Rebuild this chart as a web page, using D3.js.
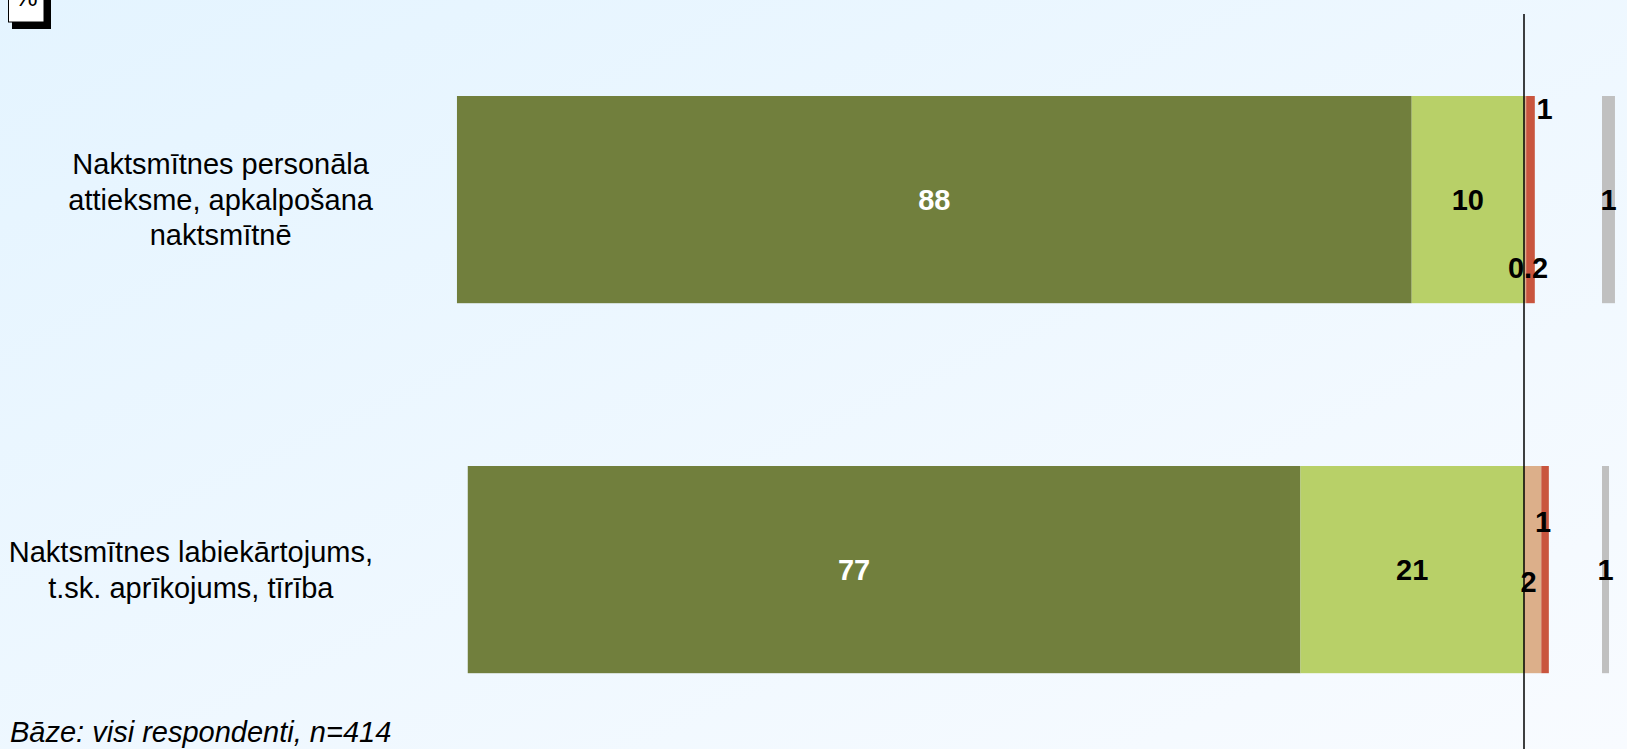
<html>
<head>
  <meta charset="utf-8">
  <script src="https://d3js.org/d3.v7.min.js"></script>
  <style>
    body { margin: 0; overflow: hidden; }
    svg { display: block; font-family: Arial, "Liberation Sans", sans-serif; }
  </style>
</head>
<body>
<svg id="chart" width="1627" height="749"></svg>
<script>
// data
let categories = [
  ["Naktsmītnes personāla", "attieksme, apkalpošana", "naktsmītnē"],
  ["Naktsmītnes labiekārtojums,", "t.sk. aprīkojums, tīrība"]
];
let verySatisfied = [88.4, 77.1];   // dark green, drawn to the left
let ratherSatisfied = [10.4, 20.7]; // light green, drawn to the left
let ratherNot = [0.2, 1.6];         // peach, to the right
let notAtAll = [0.8, 0.7];          // red, to the right
let hardToSay = [1.2, 0.65];        // grey, own column
let footnote = "Bāze: visi respondenti, n=414";

let colors = ["#717f3d", "#b8d068", "#dcaf8a", "#c9553e", "#c0c0c0"];

// label tweaks (Excel had moved some of the small labels by hand)
let nudge = [
  [[0, 0], [0, 0], [3, 0.83], [14, 0.06], [0, 0.5]],
  [[-30, 0.5], [0, 0.5], [-4, 0.56], [-2, 0.27], [0, 0.5]]
];

let svg = d3.select("#chart");
let W = 1627, H = 749;
let fs = 29;

// background gradient
let defs = svg.append("defs");
let grad = defs.append("linearGradient").attr("id", "bg")
  .attr("x1", "0").attr("y1", "0").attr("x2", "1").attr("y2", "1");
grad.append("stop").attr("offset", "0").attr("stop-color", "#e4f4ff");
grad.append("stop").attr("offset", "1").attr("stop-color", "#f8fbff");
svg.append("rect").attr("width", W).attr("height", H).attr("fill", "url(#bg)");

let x = d3.scaleLinear().domain([-100, 0]).range([444, 1524]); // satisfied = negative side
let g = d3.scaleLinear().domain([0, 1]).range([1602, 1612.8]);   // "grūti pateikt" column
let y = d3.scaleBand().domain(d3.range(categories.length))
  .range([14.6, 754.6]).paddingInner(0.44).paddingOuter(0.22);

let fmt = v => v < 0.5 ? v.toFixed(1) : String(Math.round(v));

categories.forEach((cat, i) => {
  let segs = [];
  let left = -(verySatisfied[i] + ratherSatisfied[i]);
  segs.push({ x0: left, x1: left + verySatisfied[i], v: verySatisfied[i], c: 0 });
  segs.push({ x0: left + verySatisfied[i], x1: 0, v: ratherSatisfied[i], c: 1 });
  segs.push({ x0: 0, x1: ratherNot[i], v: ratherNot[i], c: 2 });
  segs.push({ x0: ratherNot[i], x1: ratherNot[i] + notAtAll[i], v: notAtAll[i], c: 3 });

  segs.forEach(s => {
    svg.append("rect")
      .attr("x", x(s.x0)).attr("y", y(i))
      .attr("width", x(s.x1) - x(s.x0)).attr("height", y.bandwidth())
      .attr("fill", colors[s.c]);
  });

  svg.append("rect")
    .attr("x", g(0)).attr("y", y(i))
    .attr("width", g(hardToSay[i]) - g(0)).attr("height", y.bandwidth())
    .attr("fill", colors[4]);

  // value labels
  segs.forEach(s => {
    let n = nudge[i][s.c];
    let cx = (x(s.x0) + x(s.x1)) / 2 + n[0];
    let cy = y(i) + y.bandwidth() * (n[1] || 0.5);
    svg.append("text")
      .attr("x", cx).attr("y", cy).attr("dy", "0.35em")
      .attr("text-anchor", "middle")
      .attr("font-size", fs).attr("font-weight", "bold")
      .attr("fill", s.c == 0 ? "#fff" : "#000")
      .text(fmt(s.v));
  });
  let n = nudge[i][4];
  svg.append("text")
    .attr("x", (g(0) + g(hardToSay[i])) / 2 + n[0])
    .attr("y", y(i) + y.bandwidth() * n[1]).attr("dy", "0.35em")
    .attr("text-anchor", "middle")
    .attr("font-size", fs).attr("font-weight", "bold")
    .text(fmt(hardToSay[i]));

  // category label: block right edge at 372, lines centred inside the block
  let lbl = svg.append("g");
  let texts = cat.map((line, j) => lbl.append("text")
    .attr("font-size", fs).attr("fill", "#000")
    .attr("text-anchor", "middle")
    .attr("y", y(i) + y.bandwidth() / 2 + (j - (cat.length - 1) / 2) * 35.5)
    .attr("dy", "0.35em")
    .text(line));
  let widest = d3.max(texts, t => t.node().getComputedTextLength());
  texts.forEach(t => t.attr("x", 373 - widest / 2));
});

// zero line
svg.append("line")
  .attr("x1", x(0)).attr("x2", x(0))
  .attr("y1", 14).attr("y2", H)
  .attr("stroke", "#000").attr("stroke-width", 1.5);

// "%" box in the corner (mostly above the visible area)
svg.append("rect").attr("x", 12).attr("y", -12).attr("width", 39).attr("height", 41).attr("fill", "#000");
svg.append("rect").attr("x", 8.5).attr("y", -18).attr("width", 35.5).attr("height", 40)
  .attr("fill", "#fff").attr("stroke", "#000").attr("stroke-width", 1);
svg.append("text").attr("x", 26).attr("y", 6).attr("text-anchor", "middle")
  .attr("font-size", 26).text("%");

svg.append("text")
  .attr("x", 10).attr("y", 742)
  .attr("font-size", fs).attr("font-style", "italic")
  .text(footnote);
</script>
</body>
</html>
